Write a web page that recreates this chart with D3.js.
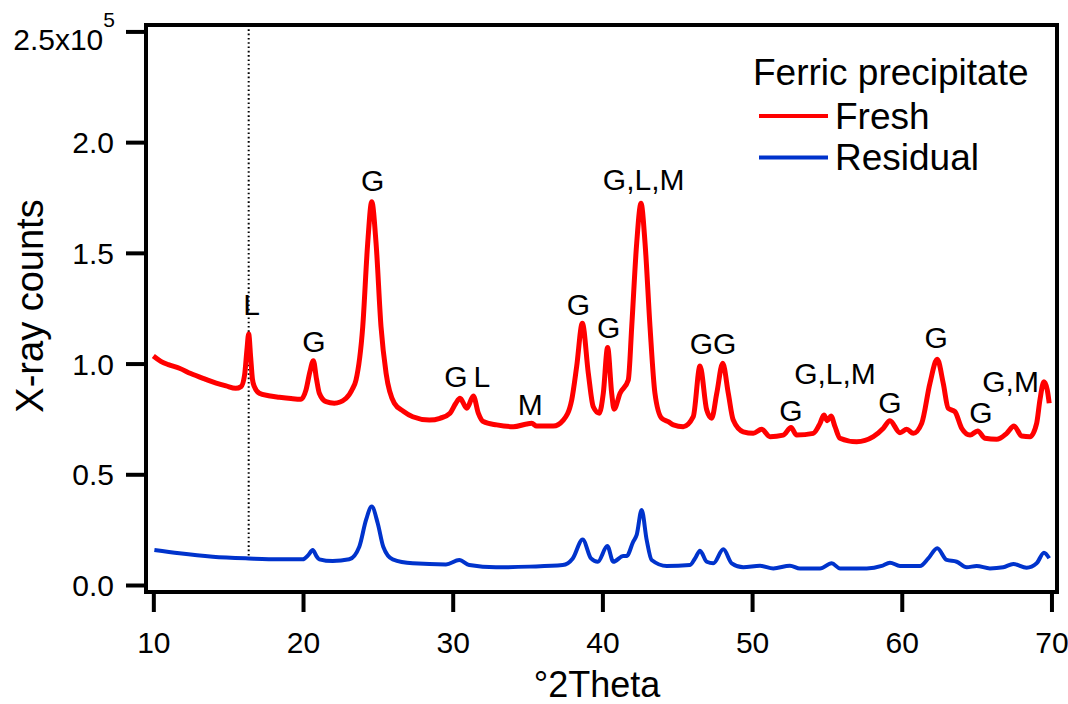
<!DOCTYPE html>
<html>
<head>
<meta charset="utf-8">
<script src="https://cdn.jsdelivr.net/npm/d3@7"></script>
<style>
  html, body { margin: 0; padding: 0; background: #fff; }
  svg { display: block; font-family: "Liberation Sans", Arial, sans-serif; }
</style>
</head>
<body>
<svg id="chart" width="1068" height="704"></svg>
<script>
// XRD pattern of the fresh ferric precipitate (counts in units of 1e5)
const freshTheta = [10.0, 10.5, 11.0, 11.74, 12.5, 13.5, 14.2, 14.86, 15.5, 15.86, 16.1, 16.25, 16.37, 16.5, 16.62, 16.75, 17.08, 17.7, 18.42, 19.2, 19.87, 20.2, 20.45, 20.69, 20.9, 21.09, 21.54, 22.09, 22.87, 23.3, 23.54, 23.99, 24.32, 24.59, 24.88, 25.21, 25.55, 26.1, 26.7, 27.33, 28.44, 29.15, 29.82, 30.2, 30.49, 30.94, 31.38, 31.71, 32.04, 32.94, 34.05, 34.94, 35.28, 35.61, 36.72, 37.39, 37.95, 38.28, 38.66, 39.06, 39.39, 39.79, 40.06, 40.35, 40.62, 40.78, 41.18, 41.73, 41.96, 42.29, 42.58, 42.85, 43.18, 43.51, 43.96, 44.4, 44.74, 45.4, 46.07, 46.52, 46.97, 47.3, 47.64, 48.04, 48.41, 48.74, 49.41, 50.08, 50.64, 51.2, 52.08, 52.6, 52.98, 54.09, 54.54, 54.8, 55.02, 55.27, 55.54, 55.87, 56.99, 58.1, 58.77, 59.21, 59.88, 60.33, 60.77, 61.33, 61.88, 62.37, 62.77, 63.1, 63.55, 64.0, 64.56, 65.07, 65.56, 66.34, 67.01, 67.5, 68.01, 68.57, 69.01, 69.23, 69.5, 69.72, 69.85];
const freshCounts = [1.034, 1.01, 0.995, 0.979, 0.955, 0.929, 0.912, 0.899, 0.888, 0.896, 0.95, 1.06, 1.134, 1.03, 0.93, 0.896, 0.866, 0.855, 0.848, 0.842, 0.839, 0.881, 0.96, 1.013, 0.93, 0.866, 0.828, 0.821, 0.843, 0.885, 0.926, 1.167, 1.543, 1.731, 1.543, 1.167, 0.956, 0.821, 0.785, 0.760, 0.745, 0.753, 0.776, 0.82, 0.843, 0.798, 0.854, 0.776, 0.738, 0.723, 0.715, 0.727, 0.730, 0.718, 0.718, 0.745, 0.836, 0.986, 1.182, 0.956, 0.805, 0.776, 0.866, 1.073, 0.866, 0.794, 0.866, 0.926, 1.167, 1.543, 1.724, 1.543, 1.167, 0.866, 0.753, 0.738, 0.723, 0.715, 0.760, 0.989, 0.790, 0.753, 0.866, 1.001, 0.866, 0.745, 0.692, 0.685, 0.703, 0.670, 0.677, 0.711, 0.677, 0.685, 0.730, 0.768, 0.742, 0.763, 0.715, 0.663, 0.647, 0.670, 0.708, 0.742, 0.688, 0.703, 0.685, 0.730, 0.911, 1.019, 0.911, 0.798, 0.783, 0.708, 0.677, 0.696, 0.663, 0.658, 0.685, 0.718, 0.673, 0.670, 0.730, 0.836, 0.918, 0.881, 0.821];

// XRD pattern of the residual precipitate
const residualTheta = [10.07, 11.74, 13.97, 16.37, 18.42, 19.98, 20.35, 20.65, 20.9, 21.09, 21.98, 23.09, 23.76, 24.21, 24.59, 24.99, 25.36, 25.99, 27.33, 29.55, 30.44, 31.11, 32.89, 35.12, 37.35, 38.02, 38.68, 39.24, 39.69, 40.33, 40.73, 41.4, 41.62, 42.06, 42.29, 42.62, 42.96, 43.29, 44.3, 45.85, 46.19, 46.52, 46.97, 47.41, 48.08, 48.64, 49.41, 50.53, 51.42, 52.53, 53.2, 54.54, 55.32, 55.87, 57.66, 58.66, 59.21, 59.88, 61.22, 61.77, 62.37, 63.0, 63.67, 64.34, 65.0, 65.89, 66.78, 67.45, 68.34, 69.01, 69.5, 69.85];
const residualCounts = [0.158, 0.143, 0.128, 0.120, 0.116, 0.116, 0.135, 0.158, 0.13, 0.116, 0.108, 0.116, 0.173, 0.294, 0.354, 0.279, 0.173, 0.116, 0.098, 0.093, 0.113, 0.090, 0.080, 0.083, 0.090, 0.120, 0.206, 0.120, 0.105, 0.176, 0.105, 0.131, 0.131, 0.196, 0.226, 0.339, 0.203, 0.113, 0.086, 0.090, 0.120, 0.155, 0.105, 0.098, 0.161, 0.098, 0.080, 0.087, 0.075, 0.087, 0.074, 0.074, 0.098, 0.075, 0.075, 0.086, 0.101, 0.086, 0.086, 0.120, 0.166, 0.113, 0.105, 0.080, 0.086, 0.075, 0.080, 0.095, 0.078, 0.098, 0.146, 0.121];

// Phase annotations (G, L, M) anchored at angle / count level
const peakLabels = ["L", "G", "G", "G", "L", "M", "G", "G", "G,L,M", "GG", "G", "G,L,M", "G", "G", "G", "G,M"];
const peakTheta  = [16.56, 20.73, 24.66, 30.22, 31.94, 35.18, 38.39, 40.42, 42.76, 47.39, 52.59, 55.54, 59.21, 62.30, 65.28, 67.27];
const peakLevel  = [1.22, 1.054, 1.781, 0.896, 0.896, 0.768, 1.22, 1.114, 1.784, 1.042, 0.742, 0.908, 0.778, 1.072, 0.733, 0.873];

// Axis ticks
const xTicks = [10, 20, 30, 40, 50, 60, 70];
const yTicks = [0.0, 0.5, 1.0, 1.5, 2.0, 2.5];
const markerTheta = 16.37;

const seriesNames = ["Fresh", "Residual"];
const seriesColors = ["#ff0000", "#0033cc"];

const svg = d3.select("#chart");
const plotLeft = 146, plotRight = 1057, plotTop = 25, plotBottom = 592;

const x = d3.scaleLinear().domain([9.51, 70.37]).range([plotLeft, plotRight]);
const y = d3.scaleLinear().domain([-0.0316, 2.529]).range([plotBottom, plotTop]);

const font = '"Liberation Sans", Arial, sans-serif';

// Axes
const yAxis = d3.axisLeft(y).tickValues(yTicks).tickSize(20).tickSizeOuter(0).tickPadding(12)
  .tickFormat(d => d3.format(".1f")(d));
const gy = svg.append("g").attr("transform", `translate(${plotLeft},0)`).call(yAxis);
gy.select(".domain").remove();
gy.selectAll(".tick line").attr("stroke", "#000").attr("stroke-width", 4);
gy.selectAll(".tick text").attr("font-size", 30).attr("font-family", font).attr("fill", "#000").attr("dy", "0.35em");
// top tick carries the 10^5 multiplier
gy.selectAll(".tick text").filter(d => d === 2.5).each(function () {
  const t = d3.select(this);
  t.text("2.5x10").attr("dy", "0.61em").attr("x", -31);
  t.append("tspan").attr("font-size", 21).attr("dy", -23).text("5");
});

const xAxis = d3.axisBottom(x).tickValues(xTicks).tickSize(20).tickSizeOuter(0).tickPadding(20)
  .tickFormat(d3.format("d"));
const gx = svg.append("g").attr("transform", `translate(0,${plotBottom})`).call(xAxis);
gx.select(".domain").remove();
gx.selectAll(".tick line").attr("stroke", "#000").attr("stroke-width", 4);
gx.selectAll(".tick text").attr("font-size", 30).attr("font-family", font).attr("fill", "#000");

// Frame
svg.append("rect").attr("x", plotLeft).attr("y", plotTop)
  .attr("width", plotRight - plotLeft).attr("height", plotBottom - plotTop)
  .attr("fill", "none").attr("stroke", "#000").attr("stroke-width", 4);

// Axis titles
svg.append("text").attr("x", 597).attr("y", 697).attr("text-anchor", "middle")
  .attr("font-size", 36).attr("font-family", font).text("°2Theta");
svg.append("text").attr("transform", "translate(43,306) rotate(-90)").attr("text-anchor", "middle")
  .attr("font-size", 38).attr("font-family", font).text("X-ray counts");

// Dotted reference line at the first L reflection
const residualAtMarker = residualCounts[d3.minIndex(residualTheta, t => Math.abs(t - markerTheta))];
svg.append("line").attr("x1", x(markerTheta)).attr("x2", x(markerTheta))
  .attr("y1", plotTop).attr("y2", y(residualAtMarker))
  .attr("stroke", "#000").attr("stroke-width", 2).attr("stroke-dasharray", "1.6,2.7");

// Patterns
const line = d3.line().x(d => x(d[0])).y(d => y(d[1])).curve(d3.curveMonotoneX);
const freshData = d3.zip(freshTheta, freshCounts);
const residualData = d3.zip(residualTheta, residualCounts);

svg.append("path").datum(residualData).attr("d", line).attr("fill", "none")
  .attr("stroke", seriesColors[1]).attr("stroke-width", 4).attr("stroke-linejoin", "round");
svg.append("path").datum(freshData).attr("d", line).attr("fill", "none")
  .attr("stroke", seriesColors[0]).attr("stroke-width", 5).attr("stroke-linejoin", "round");

// Phase labels
svg.append("g").selectAll("text").data(peakLabels).join("text")
  .attr("x", (d, i) => x(peakTheta[i])).attr("y", (d, i) => y(peakLevel[i]))
  .attr("text-anchor", "middle").attr("font-size", 30).attr("font-family", font)
  .text(d => d);

// Legend
const legend = svg.append("g");
legend.append("text").attr("x", 753).attr("y", 85).attr("font-size", 37).attr("font-family", font)
  .text("Ferric precipitate");
seriesNames.forEach((name, i) => {
  const ly = 116 + i * 41.5;
  legend.append("line").attr("x1", 759).attr("x2", 828).attr("y1", ly).attr("y2", ly)
    .attr("stroke", seriesColors[i]).attr("stroke-width", 4);
  legend.append("text").attr("x", 835).attr("y", ly + 12.5).attr("font-size", 37).attr("font-family", font)
    .text(name);
});
</script>
</body>
</html>
